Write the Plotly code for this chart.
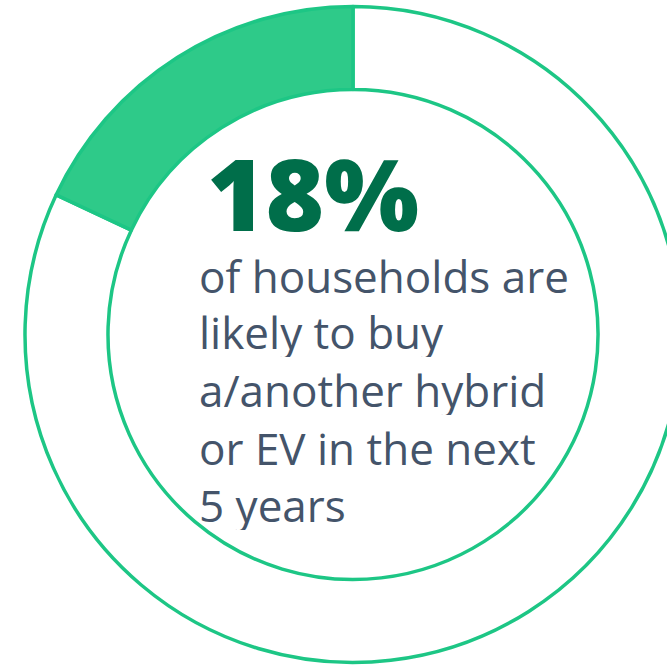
import plotly.graph_objects as go

# Share of households likely to buy a/another hybrid or EV in the next 5 years
labels = ["Other households", "Likely to buy hybrid/EV"]
values = [82, 18]
headline = "18%"
caption_lines = [
    "of households are",
    "likely to buy",
    "a/another hybrid",
    "or EV in the next",
    "5 years",
]

W, H = 706, 665
FILL = "#2ECA89"
EDGE = "#1DC685"

# Clockwise from 12 o'clock, so the 18% slice ends at the top on the left side
fig = go.Figure(
    go.Pie(
        labels=labels,
        values=values,
        hole=0.747,
        sort=False,
        direction="clockwise",
        rotation=0,
        marker=dict(colors=["#FFFFFF", FILL], line=dict(color=EDGE, width=3.5)),
        textinfo="none",
        hoverinfo="label+value",
        domain=dict(x=[0, 1], y=[1 - 662.5 / H, 1 - 6.5 / H]),
        showlegend=False,
    )
)

annotations = [
    dict(
        text=headline,
        x=205 / W, y=1 - 192 / H, xref="paper", yref="paper",
        xanchor="left", yanchor="middle", valign="middle", height=104,
        showarrow=False,
        font=dict(family="Open Sans", size=100, color="#006E4A", weight=800),
    )
]
line_centres = [276, 332, 390, 448, 505]
for txt, yc in zip(caption_lines, line_centres):
    annotations.append(
        dict(
            text=txt,
            x=197 / W, y=1 - yc / H, xref="paper", yref="paper",
            xanchor="left", yanchor="middle", valign="middle", height=50,
            showarrow=False,
            font=dict(family="Open Sans", size=44, color="#44546A"),
        )
    )

fig.update_layout(
    width=W,
    height=H,
    margin=dict(l=0, r=0, t=0, b=0),
    paper_bgcolor="white",
    plot_bgcolor="white",
    annotations=annotations,
)

fig.write_html(
    "out.html",
    post_script="document.body.style.margin='0';document.body.style.overflow='hidden';"
    "document.documentElement.style.overflow='hidden';",
)
